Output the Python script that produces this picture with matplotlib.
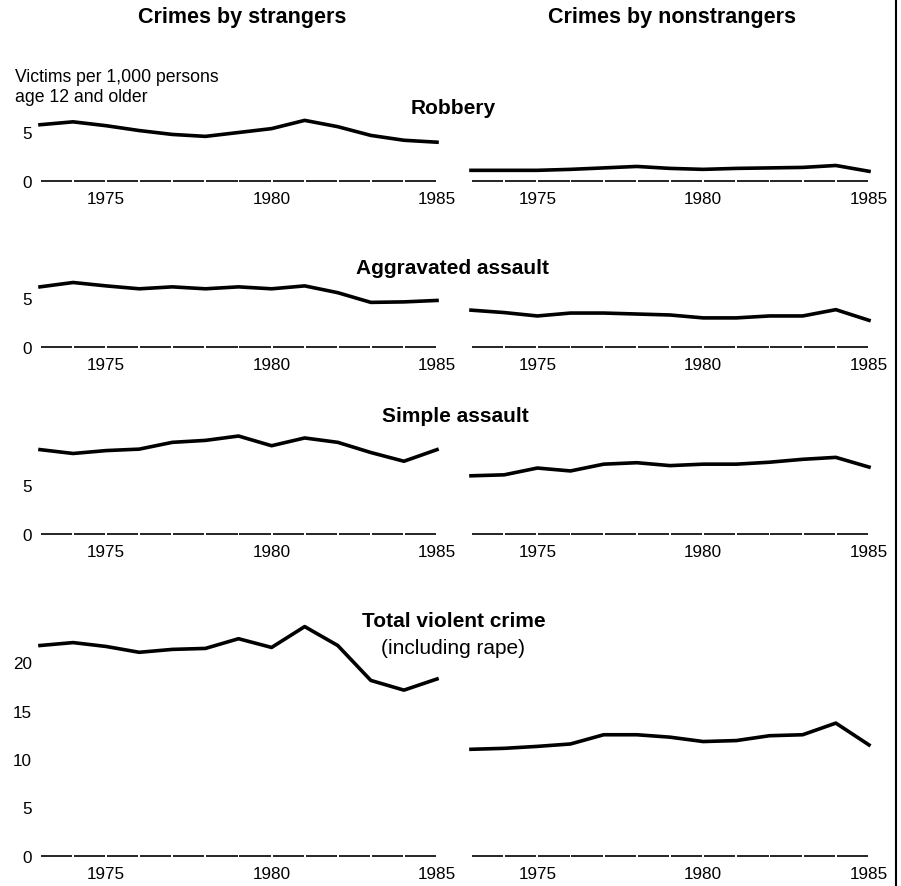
import matplotlib
matplotlib.use("Agg")
import matplotlib.pyplot as plt
import numpy as np

plt.rcParams['font.family'] = ['Liberation Sans', 'DejaVu Sans']

years = np.arange(1973, 1986)

# victims per 1,000 persons age 12 and older
robbery_strangers = [5.8, 6.1, 5.7, 5.2, 4.8, 4.6, 5.0, 5.4, 6.25, 5.6, 4.7, 4.2, 4.0]
robbery_nonstrangers = [1.1, 1.1, 1.1, 1.2, 1.35, 1.5, 1.3, 1.2, 1.3, 1.35, 1.4, 1.6, 1.0]
aggravated_strangers = [6.2, 6.65, 6.3, 6.0, 6.2, 6.0, 6.2, 6.0, 6.3, 5.6, 4.6, 4.65, 4.8]
aggravated_nonstrangers = [3.8, 3.55, 3.2, 3.5, 3.5, 3.4, 3.3, 3.0, 3.0, 3.2, 3.2, 3.85, 2.75]
simple_strangers = [8.7, 8.3, 8.6, 8.75, 9.45, 9.65, 10.1, 9.1, 9.9, 9.45, 8.4, 7.5, 8.7]
simple_nonstrangers = [6.0, 6.1, 6.8, 6.5, 7.2, 7.35, 7.05, 7.2, 7.2, 7.4, 7.7, 7.9, 6.9]
total_strangers = [21.7, 22.0, 21.6, 21.0, 21.3, 21.4, 22.4, 21.5, 23.65, 21.7, 18.1, 17.1, 18.25]
total_nonstrangers = [11.0, 11.1, 11.3, 11.55, 12.5, 12.5, 12.25, 11.8, 11.9, 12.4, 12.5, 13.7, 11.45]

xtick_years = [1975, 1980, 1985]

W, H = 901, 887
fig = plt.figure(figsize=(W / 100, H / 100), dpi=100)

s = 9.7  # pixels per unit
col_x = [(40, 437), (471, 869)]
# (strangers, nonstrangers, baseline pixel, ymax, yticks)
rows = [
    (robbery_strangers, robbery_nonstrangers, 182, 7.5, [0, 5]),
    (aggravated_strangers, aggravated_nonstrangers, 348, 7.5, [0, 5]),
    (simple_strangers, simple_nonstrangers, 535, 11, [0, 5]),
    (total_strangers, total_nonstrangers, 857, 25, [0, 5, 10, 15, 20]),
]

for left_vals, right_vals, y0, ymax, yticks in rows:
    for c, vals in enumerate([left_vals, right_vals]):
        x0, x1 = col_x[c]
        lo = -1.0
        bottom = 1 - (y0 - lo * s) / H
        height = (ymax - lo) * s / H
        ax = fig.add_axes([x0 / W, bottom, (x1 - x0) / W, height])
        ax.set_xlim(1973, 1985)
        ax.set_ylim(lo, ymax)
        for sp in ax.spines.values():
            sp.set_visible(False)
        ax.patch.set_alpha(0)
        # dashed baseline, one piece per year
        for yr in years[:-1]:
            ax.plot([yr + 0.03, yr + 0.97], [0, 0], color='black', lw=1.2,
                    solid_capstyle='butt', clip_on=False)
        ax.plot(years, vals, color='black', lw=2.6, solid_joinstyle='round',
                clip_on=False)
        ax.set_xticks(xtick_years)
        ax.set_xticklabels([str(y) for y in xtick_years], fontsize=12.3)
        ax.tick_params(axis='x', length=0, pad=0.5)
        if c == 0:
            ax.set_yticks(yticks)
            ax.set_yticklabels([str(t) for t in yticks], fontsize=12.3)
            ax.tick_params(axis='y', length=0, pad=6)
        else:
            ax.set_yticks([])


def fig_text(x, y, txt, **kw):
    fig.text(x / W, 1 - y / H, txt, **kw)


fig_text(242, 18, "Crimes by strangers", fontsize=15.5, fontweight='bold',
         ha='center', va='center')
fig_text(672, 18, "Crimes by nonstrangers", fontsize=15.5, fontweight='bold',
         ha='center', va='center')
fig_text(15, 77, "Victims per 1,000 persons", fontsize=12.7, ha='left', va='center')
fig_text(15, 97, "age 12 and older", fontsize=12.7, ha='left', va='center')

fig_text(453, 108, "Robbery", fontsize=15, fontweight='bold', ha='center', va='center')
fig_text(452, 268, "Aggravated assault", fontsize=15, fontweight='bold',
         ha='center', va='center')
fig_text(455, 417, "Simple assault", fontsize=15, fontweight='bold',
         ha='center', va='center')
fig_text(454, 622, "Total violent crime", fontsize=15, fontweight='bold',
         ha='center', va='center')
fig_text(453, 648, "(including rape)", fontsize=15, ha='center', va='center')

# page edge on the right
fig.add_artist(plt.Line2D([896 / W, 896 / W], [0, 1], color='black', lw=1.5))

fig.savefig("out.png", dpi=100)
